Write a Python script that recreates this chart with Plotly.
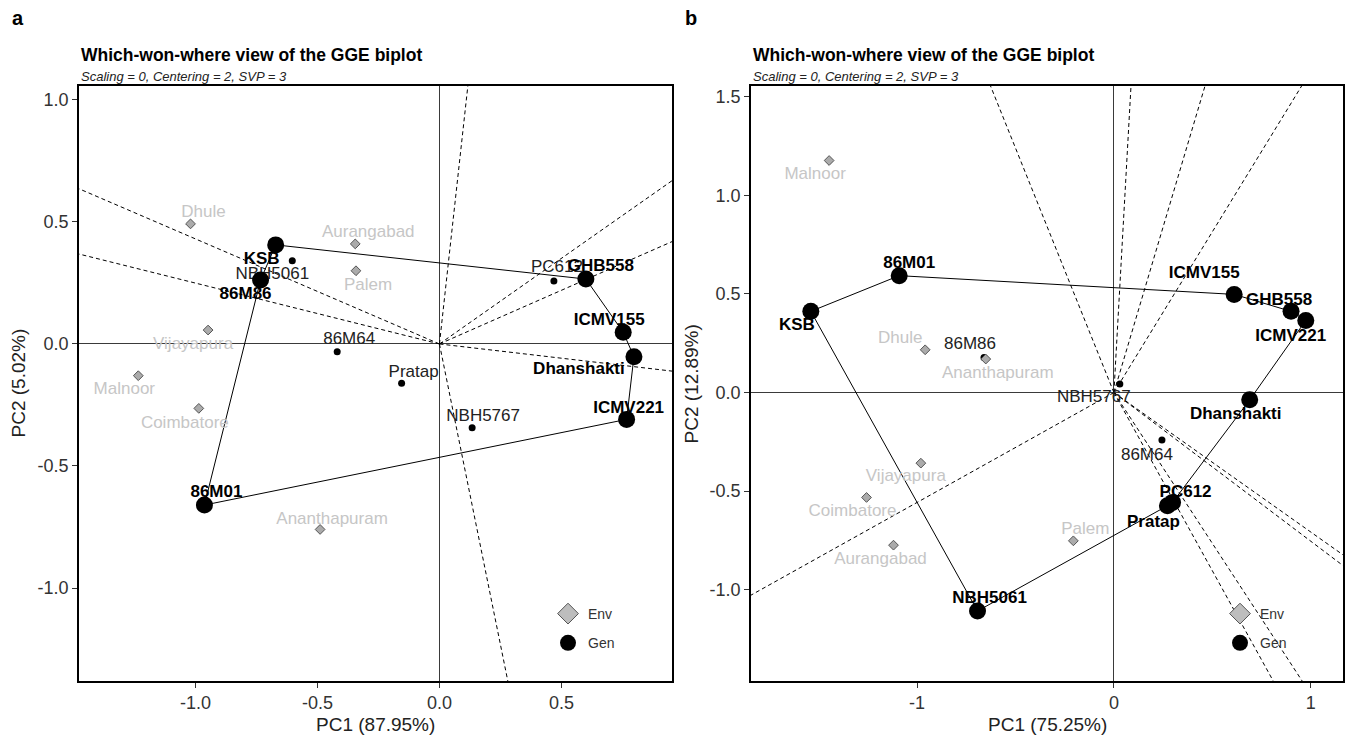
import plotly.graph_objects as go

# ---------------- data: panel a ----------------
gen_a_names = ["KSB", "NBH5061", "86M86", "86M01", "ICMV221", "Dhanshakti",
               "ICMV155", "GHB558", "PC612", "86M64", "Pratap", "NBH5767"]
gen_a_pc1 = [-0.671, -0.603, -0.733, -0.963, 0.767, 0.797, 0.753, 0.600, 0.469, -0.419, -0.155, 0.134]
gen_a_pc2 = [0.406, 0.341, 0.262, -0.660, -0.309, -0.052, 0.048, 0.266, 0.258, -0.032, -0.161, -0.343]
env_a_names = ["Dhule", "Aurangabad", "Palem", "Vijayapura", "Malnoor", "Coimbatore", "Ananthapuram"]
env_a_pc1 = [-1.020, -0.345, -0.342, -0.948, -1.234, -0.986, -0.489]
env_a_pc2 = [0.492, 0.410, 0.300, 0.057, -0.130, -0.264, -0.760]
hull_a = ["KSB", "GHB558", "ICMV155", "Dhanshakti", "ICMV221", "86M01", "86M86"]

# ---------------- data: panel b ----------------
gen_b_names = ["KSB", "86M01", "ICMV155", "GHB558", "ICMV221", "Dhanshakti",
               "PC612", "Pratap", "NBH5061", "86M86", "NBH5767", "86M64"]
gen_b_pc1 = [-1.540, -1.091, 0.611, 0.900, 0.975, 0.690, 0.298, 0.272, -0.693, -0.660, 0.030, 0.244]
gen_b_pc2 = [0.412, 0.593, 0.498, 0.412, 0.366, -0.037, -0.557, -0.574, -1.108, 0.178, 0.043, -0.241]
env_b_names = ["Malnoor", "Dhule", "Ananthapuram", "Vijayapura", "Coimbatore", "Aurangabad", "Palem"]
env_b_pc1 = [-1.447, -0.959, -0.651, -0.981, -1.257, -1.120, -0.206]
env_b_pc2 = [1.177, 0.217, 0.170, -0.358, -0.532, -0.774, -0.752]
hull_b = ["KSB", "86M01", "ICMV155", "GHB558", "ICMV221", "Dhanshakti", "PC612", "Pratap", "NBH5061"]

title_text = "Which-won-where view of the GGE biplot"
subtitle_text = "Scaling = 0, Centering = 2, SVP = 3"
xtitle_a, ytitle_a = "PC1 (87.95%)", "PC2 (5.02%)"
xtitle_b, ytitle_b = "PC1 (75.25%)", "PC2 (12.89%)"
xt_a_vals, xt_a_text = [-1.0, -0.5, 0.0, 0.5], ["-1.0", "-0.5", "0.0", "0.5"]
yt_a_vals, yt_a_text = [-1.0, -0.5, 0.0, 0.5, 1.0], ["-1.0", "-0.5", "0.0", "0.5", "1.0"]
xt_b_vals, xt_b_text = [-1, 0, 1], ["-1", "0", "1"]
yt_b_vals, yt_b_text = [-1.0, -0.5, 0.0, 0.5, 1.0, 1.5], ["-1.0", "-0.5", "0.0", "0.5", "1.0", "1.5"]

# ---------------- layout geometry (pixels) ----------------
W, H = 1346, 738
FONT = "Liberation Sans, Arial, sans-serif"
PANELS = {
    "a": dict(x0=79, x1=672, y0=86, y1=681, xr=[-1.477, 0.953], yr=[-1.381, 1.057]),
    "b": dict(x0=751, x1=1343, y0=86, y1=681, xr=[-1.844, 1.164], yr=[-1.463, 1.555]),
}

# label offsets in screen pixels (dx right, dy down) - placement only
OFF_A = {"Dhule": (13, -11), "Aurangabad": (13, -11), "Palem": (12, 15), "Vijayapura": (-15, 15),
         "Malnoor": (-14, 14), "Coimbatore": (-14, 15), "Ananthapuram": (12, -10),
         "KSB": (-14, 15), "NBH5061": (-20, 14), "86M86": (-15, 15), "86M01": (12, -12),
         "ICMV221": (2, -11), "Dhanshakti": (-55, 13), "ICMV155": (-14, -12), "GHB558": (15, -12),
         "PC612": (3, -13), "86M64": (12, -12), "Pratap": (12, -11), "NBH5767": (11, -11)}
OFF_B = {"Malnoor": (-14, 14), "Dhule": (-25, -11), "Ananthapuram": (12, 15), "Vijayapura": (-15, 14),
         "Coimbatore": (-14, 14), "Aurangabad": (-13, 15), "Palem": (12, -11),
         "KSB": (-14, 14), "86M01": (10, -12), "ICMV155": (-30, -21), "GHB558": (-12, -11),
         "ICMV221": (-15, 16), "Dhanshakti": (-14, 15), "PC612": (13, -10), "Pratap": (-14, 17),
         "NBH5061": (12, -12), "86M86": (-14, -13), "NBH5767": (-26, 14), "86M64": (-15, 16)}

fig = go.Figure()


def add_panel(key, xa, ya, gnames, gx, gy, enames, ex, ey, hull, offs, legend_name):
    p = PANELS[key]
    ppx = (p["x1"] - p["x0"]) / (p["xr"][1] - p["xr"][0])
    ppy = (p["y1"] - p["y0"]) / (p["yr"][1] - p["yr"][0])
    gpos = {n: (x, y) for n, x, y in zip(gnames, gx, gy)}
    common = dict(xaxis=xa, yaxis=ya, hoverinfo="skip", showlegend=False)

    # rays perpendicular to each polygon side, from the origin
    for i in range(len(hull)):
        x1, y1 = gpos[hull[i]]
        x2, y2 = gpos[hull[(i + 1) % len(hull)]]
        nx, ny = (y2 - y1), -(x2 - x1)
        if nx * (x1 + x2) + ny * (y1 + y2) < 0:
            nx, ny = -nx, -ny
        L = 10.0 / (nx * nx + ny * ny) ** 0.5
        fig.add_trace(go.Scatter(x=[0, nx * L], y=[0, ny * L], mode="lines",
                                 line=dict(color="black", width=1, dash="4px,3px"), **common))
    # polygon
    px_ = [gpos[n][0] for n in hull] + [gpos[hull[0]][0]]
    py_ = [gpos[n][1] for n in hull] + [gpos[hull[0]][1]]
    fig.add_trace(go.Scatter(x=px_, y=py_, mode="lines", line=dict(color="black", width=1), **common))

    # small genotype dots (non-vertex)
    small = [n for n in gnames if n not in hull]
    fig.add_trace(go.Scatter(x=[gpos[n][0] for n in small], y=[gpos[n][1] for n in small],
                             mode="markers", marker=dict(color="black", size=7), **common))
    # environment diamonds
    fig.add_trace(go.Scatter(x=ex, y=ey, mode="markers",
                             marker=dict(symbol="diamond", size=7.5, color="#ababab",
                                         line=dict(color="#555555", width=1)), **common))

    def lab(names, xs, ys, color, bold):
        lx = [x + offs[n][0] / ppx for n, x in zip(names, xs)]
        ly = [y - offs[n][1] / ppy for n, y in zip(names, ys)]
        txt = [("<b>%s</b>" % n) if bold else n for n in names]
        fig.add_trace(go.Scatter(x=lx, y=ly, mode="text", text=txt, textposition="middle center",
                                 textfont=dict(family=FONT, size=17, color=color),
                                 cliponaxis=False, **common))

    lab(enames, ex, ey, "#c6c6c6", False)
    lab(small, [gpos[n][0] for n in small], [gpos[n][1] for n in small], "#222222", False)
    # big vertex genotypes
    fig.add_trace(go.Scatter(x=[gpos[n][0] for n in hull], y=[gpos[n][1] for n in hull],
                             mode="markers", marker=dict(color="black", size=17), **common))
    lab(hull, [gpos[n][0] for n in hull], [gpos[n][1] for n in hull], "black", True)

    # legend entries
    fig.add_trace(go.Scatter(x=[None], y=[None], mode="markers", name="Env", legend=legend_name,
                             legendgroup=key + "env", xaxis=xa, yaxis=ya,
                             marker=dict(symbol="diamond", size=16, color="#bdbdbd",
                                         line=dict(color="#555555", width=1))))
    fig.add_trace(go.Scatter(x=[None], y=[None], mode="markers", name="Gen", legend=legend_name,
                             legendgroup=key + "gen", xaxis=xa, yaxis=ya,
                             marker=dict(symbol="circle", size=16, color="black")))


add_panel("a", "x", "y", gen_a_names, gen_a_pc1, gen_a_pc2, env_a_names, env_a_pc1, env_a_pc2,
          hull_a, OFF_A, "legend")
add_panel("b", "x2", "y2", gen_b_names, gen_b_pc1, gen_b_pc2, env_b_names, env_b_pc1, env_b_pc2,
          hull_b, OFF_B, "legend2")


def axis(p, which, vals, text, anchor):
    if which == "x":
        dom = [p["x0"] / W, p["x1"] / W]
        rng = p["xr"]
    else:
        dom = [1 - p["y1"] / H, 1 - p["y0"] / H]
        rng = p["yr"]
    return dict(domain=dom, range=rng, anchor=anchor, tickvals=vals, ticktext=text,
                showline=True, mirror=True, linecolor="black", linewidth=1.5,
                ticks="outside", ticklen=5, tickwidth=1, tickcolor="#333333",
                showgrid=False, zeroline=True, zerolinecolor="#3a3a3a", zerolinewidth=1,
                tickfont=dict(family=FONT, size=18, color="#333333"), fixedrange=True)


def ann(text, px, py, size, bold=False, italic=False, xanchor="center", color="black", angle=0):
    t = text
    if bold:
        t = "<b>%s</b>" % t
    if italic:
        t = "<i>%s</i>" % t
    return dict(text=t, x=px / W, y=1 - py / H, xref="paper", yref="paper", showarrow=False,
                xanchor=xanchor, yanchor="middle", textangle=angle,
                font=dict(family=FONT, size=size, color=color))


pa, pb = PANELS["a"], PANELS["b"]
annotations = [
    ann("a", 18, 18, 20, bold=True),
    ann("b", 691, 18, 20, bold=True),
    ann(title_text, pa["x0"], 55, 17.5, bold=True, xanchor="left"),
    ann(title_text, pb["x0"], 55, 17.5, bold=True, xanchor="left"),
    ann(subtitle_text, pa["x0"], 76, 13, italic=True, xanchor="left", color="#222222"),
    ann(subtitle_text, pb["x0"], 76, 13, italic=True, xanchor="left", color="#222222"),
    ann(xtitle_a, (pa["x0"] + pa["x1"]) / 2, 724, 19, color="#222222"),
    ann(xtitle_b, (pb["x0"] + pb["x1"]) / 2, 724, 19, color="#222222"),
    ann(ytitle_a, 18, (pa["y0"] + pa["y1"]) / 2, 19, color="#222222", angle=-90),
    ann(ytitle_b, 691, (pb["y0"] + pb["y1"]) / 2, 19, color="#222222", angle=-90),
]

leg_common = dict(bgcolor="rgba(0,0,0,0)", font=dict(family=FONT, size=14, color="#333333"),
                  itemsizing="trace", tracegroupgap=8, xanchor="left", yanchor="top",
                  itemclick=False, itemdoubleclick=False)

fig.update_layout(
    width=W, height=H, margin=dict(l=0, r=0, t=0, b=0),
    paper_bgcolor="white", plot_bgcolor="white",
    xaxis=axis(pa, "x", xt_a_vals, xt_a_text, "y"),
    yaxis=axis(pa, "y", yt_a_vals, yt_a_text, "x"),
    xaxis2=axis(pb, "x", xt_b_vals, xt_b_text, "y2"),
    yaxis2=axis(pb, "y", yt_b_vals, yt_b_text, "x2"),
    annotations=annotations,
    legend=dict(x=548 / W, y=1 - 598 / H, **leg_common),
    legend2=dict(x=1220 / W, y=1 - 598 / H, **leg_common),
    font=dict(family=FONT),
)

fig.write_html("out.html", config={"displayModeBar": False},
               post_script="document.body.style.margin='0';document.body.style.overflow='hidden';")
